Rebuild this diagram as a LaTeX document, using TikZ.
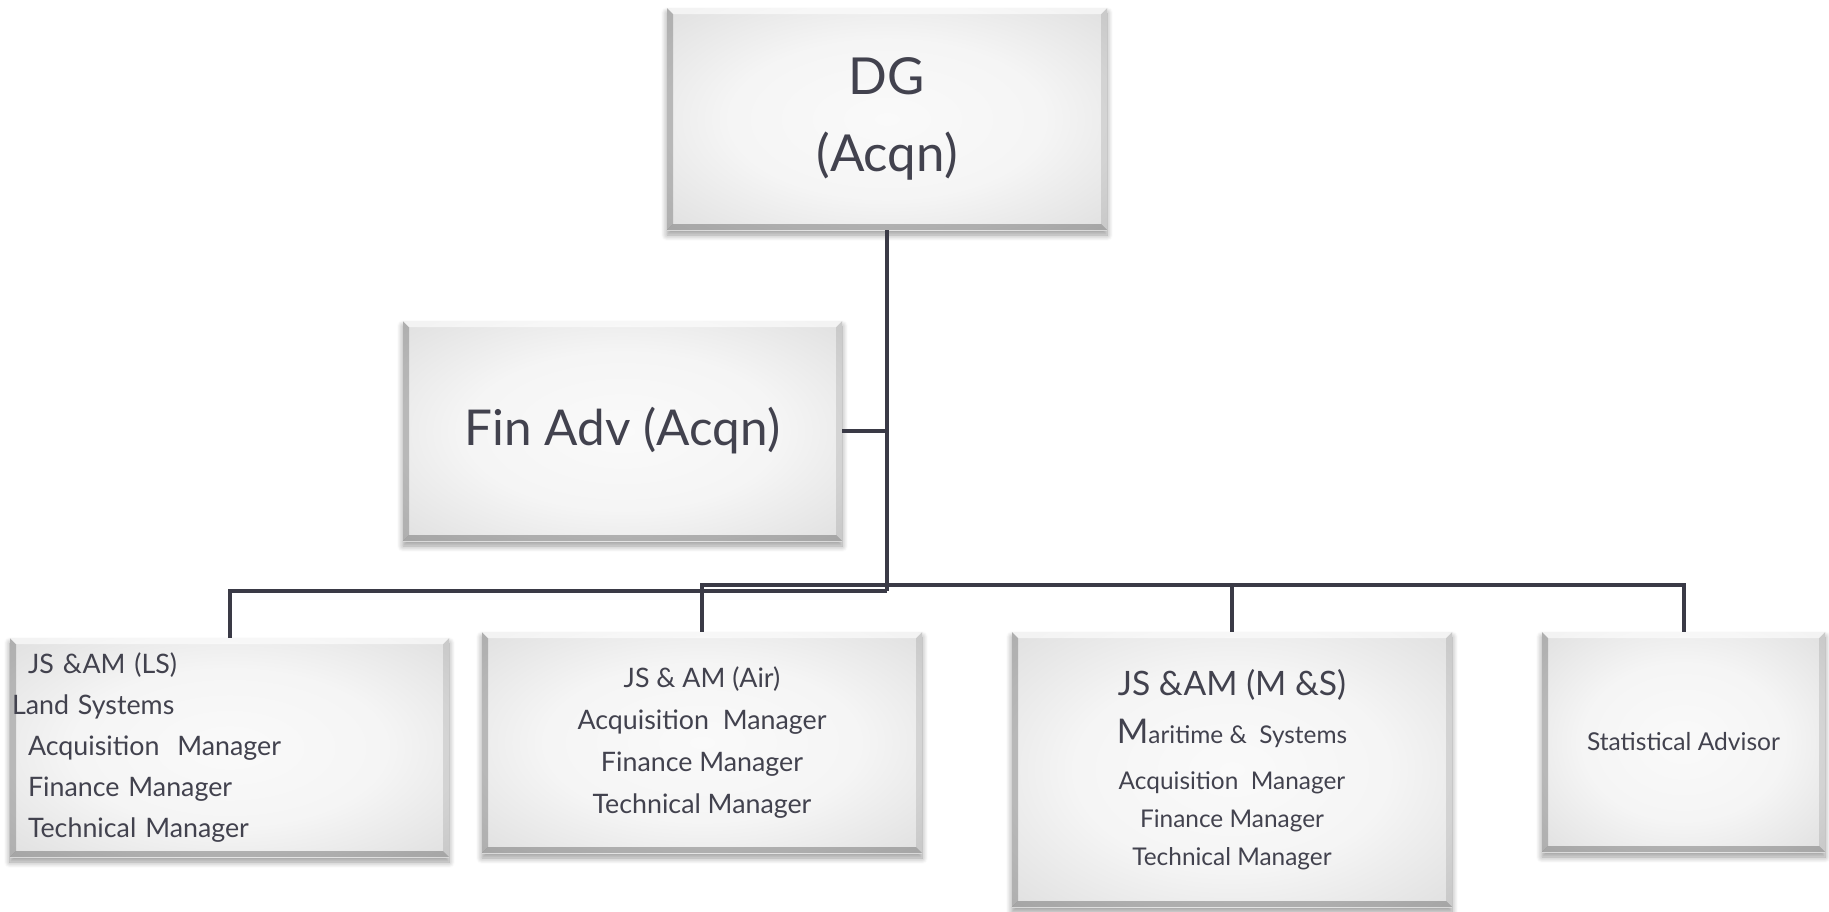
\documentclass[tikz,border=0pt]{standalone}
\usepackage{fontspec}
\setmainfont{Lato}
\usetikzlibrary{shadows.blur}

\definecolor{ink}{RGB}{66,66,78}
\definecolor{wire}{RGB}{58,58,70}
\pgfdeclareradialshading{boxshade}{\pgfpoint{0bp}{0bp}}{color(0bp)=(black!2); color(18bp)=(black!4); color(50bp)=(black!19); color(72bp)=(black!26)}

\tikzset{
  post/.style={shading=boxshade, text=ink, inner sep=1pt,
    blur shadow={shadow xshift=0pt, shadow yshift=-2.5pt, shadow blur steps=8, shadow blur radius=3pt, shadow opacity=40},
    path picture={
      \coordinate (bsw) at (path picture bounding box.south west);
      \coordinate (bse) at (path picture bounding box.south east);
      \coordinate (bnw) at (path picture bounding box.north west);
      \coordinate (bne) at (path picture bounding box.north east);
      % bevel, one strip per side
      \fill[black,opacity=.22] (bsw) -- ([shift={(3pt,3pt)}]bsw) -- ([shift={(3pt,-3pt)}]bnw) -- (bnw) -- cycle;
      \fill[black,opacity=.26] (bsw) -- ([shift={(3pt,3pt)}]bsw) -- ([shift={(-3pt,3pt)}]bse) -- (bse) -- cycle;
      \fill[black,opacity=.10] (bne) -- ([shift={(-3pt,-3pt)}]bne) -- ([shift={(-3pt,3pt)}]bse) -- (bse) -- cycle;
      \fill[white,opacity=.6] (bne) -- ([shift={(-3pt,-3pt)}]bne) -- ([shift={(3pt,-3pt)}]bnw) -- (bnw) -- cycle;
    }},
  link/.style={draw=wire, line width=2pt},
}

\begin{document}
\begin{tikzpicture}[x=0.5pt, y=-0.5pt]
    \useasboundingbox (0,0) rectangle (1829,911);

    \node[post, minimum width=220pt, minimum height=111pt, align=center,
          font=\fontsize{25.5}{38.5}\selectfont] at (887,119) (dg) {DG\\(Acqn)};
    \node[post, minimum width=219.5pt, minimum height=110pt,
          font=\fontsize{24.7}{28}\selectfont] at (622.5,431) (fin) {Fin Adv (Acqn)};

    \node[post, minimum width=219.5pt, minimum height=109.5pt, align=left, text width=217.5pt,
          font=\fontsize{13.4}{20.5}\selectfont] at (229.5,747.5) (ls)
          {\hspace*{8pt}JS \&AM (LS)\\Land Systems\\\hspace*{8pt}Acquisition\ \ Manager\\\hspace*{8pt}Finance Manager\\\hspace*{8pt}Technical Manager};
    \node[post, minimum width=220pt, minimum height=110.5pt, align=center,
          font=\fontsize{13.4}{21}\selectfont] at (702,742.5) (air)
          {JS \& AM (Air)\\Acquisition\ \ Manager\\Finance Manager\\Technical Manager};
    \node[post, minimum width=220pt, minimum height=137.5pt, align=center,
          font=\fontsize{12.2}{19}\selectfont] at (1232,769.5) (ms)
          {{\fontsize{16.8}{22}\selectfont JS \&AM (M \&S)}\\[5pt]{\fontsize{17}{22}\selectfont M}aritime \&\ \ Systems\\[4pt]Acquisition\ \ Manager\\Finance Manager\\Technical Manager};
    \node[post, minimum width=141.5pt, minimum height=110pt,
          font=\fontsize{12.3}{14}\selectfont] at (1683.5,742) (sa) {Statistical Advisor};

    \coordinate (hub) at (887,591);
    \coordinate (tee) at (887,585);

    \draw[link] (dg.south) -- (hub);
    \draw[link] (fin.east) -- (fin.east -| hub);
    \draw[link] (hub) -| (ls.north);
    \draw[link] (air.north) |- (tee) -| (sa.north);
    \draw[link] (tee -| ms.north) -- (ms.north);
\end{tikzpicture}
\end{document}
